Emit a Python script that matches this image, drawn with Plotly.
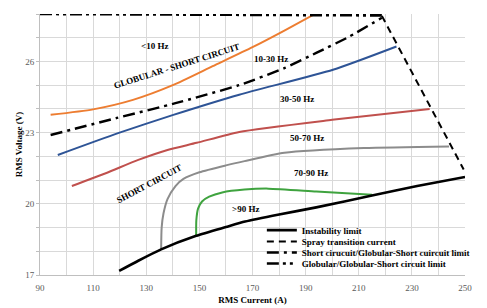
import plotly.graph_objects as go

# ---- data (RMS current in A, RMS voltage in V) ----
lt10_x = [94, 110, 125, 140, 155, 170, 182, 193]
lt10_y = [23.75, 23.98, 24.38, 25.0, 25.8, 26.6, 27.3, 27.97]

f10_30_x = [96.7, 119.4, 140.2, 165, 200.3, 224.2]
f10_30_y = [22.06, 22.98, 23.75, 24.6, 25.65, 26.63]

f30_50_x = [102, 115, 127, 138, 149, 165, 200, 236.7]
f30_50_y = [20.75, 21.3, 21.85, 22.27, 22.57, 23.03, 23.54, 24.0]

f50_70_x = [135.6, 135.8, 136.5, 138, 141, 144, 150, 160, 167, 182, 212, 244]
f50_70_y = [18.05, 19.0, 19.6, 20.2, 20.75, 21.05, 21.33, 21.62, 21.8, 22.15, 22.35, 22.42]

f70_90_x = [148.8, 148.85, 149.5, 151, 153.7, 158.6, 167, 176, 194, 215]
f70_90_y = [18.62, 19.3, 19.8, 20.1, 20.3, 20.48, 20.6, 20.64, 20.52, 20.38]

instab_x = [119.8, 127, 135.6, 148.8, 160, 167.2, 180, 194, 215, 232, 250]
instab_y = [17.17, 17.6, 18.08, 18.65, 19.02, 19.25, 19.55, 19.85, 20.35, 20.75, 21.13]

spray_x = [218.7, 249.5]
spray_y = [27.92, 21.45]

sc_limit_x = [94, 119, 141, 165, 182, 194, 206.5, 218.7]
sc_limit_y = [22.9, 23.62, 24.24, 25.0, 25.72, 26.36, 27.05, 27.84]

glob_limit_x = [90, 218.7]
glob_limit_y = [28.0, 27.94]

x_ticks = [90, 110, 130, 150, 170, 190, 210, 230, 250]
y_ticks = [17, 20, 23, 26]

region_labels = ["<10 Hz", "10-30 Hz", "30-50 Hz", "50-70 Hz", "70-90 Hz", ">90 Hz"]
region_x = [133, 177, 186.7, 190.4, 192.2, 167.5]
region_y = [26.66, 26.1, 24.4, 22.78, 21.3, 19.8]

legend_names = [
    "Instability limit",
    "Spray transition current",
    "Short cirucuit/Globular-Short cuircuit limit",
    "Globular/Globular-Short circuit limit",
]

SERIF = "Liberation Serif"

fig = go.Figure()

colored = [
    (lt10_x, lt10_y, "#ED7D31"),
    (f10_30_x, f10_30_y, "#2E5496"),
    (f30_50_x, f30_50_y, "#C0504D"),
    (f50_70_x, f50_70_y, "#8C8C8C"),
    (f70_90_x, f70_90_y, "#3FA33F"),
]
for xs, ys, c in colored:
    fig.add_trace(go.Scatter(x=xs, y=ys, mode="lines", line=dict(color=c, width=2, shape="spline", smoothing=0.6),
                             showlegend=False, hoverinfo="skip"))

fig.add_trace(go.Scatter(x=instab_x, y=instab_y, mode="lines", name=legend_names[0],
                         line=dict(color="black", width=2.6, shape="spline", smoothing=0.6), legend="legend"))
fig.add_trace(go.Scatter(x=spray_x, y=spray_y, mode="lines", name=legend_names[1],
                         line=dict(color="black", width=2, dash="7px,5px"), legend="legend2"))
fig.add_trace(go.Scatter(x=sc_limit_x, y=sc_limit_y, mode="lines", name=legend_names[2],
                         line=dict(color="black", width=2.4, dash="12px,5px,3px,5px", shape="spline", smoothing=0.5),
                         legend="legend3"))
fig.add_trace(go.Scatter(x=glob_limit_x, y=glob_limit_y, mode="lines", name=legend_names[3],
                         line=dict(color="black", width=2.6, dash="12px,4px,3px,4px,3px,4px"), legend="legend4"))

# region labels
for t, x, y in zip(region_labels, region_x, region_y):
    fig.add_annotation(x=x, y=y, text=t, showarrow=False,
                       font=dict(family=SERIF, size=9, color="black", weight="bold"))
fig.add_annotation(x=141.5, y=25.8, text="GLOBULAR - SHORT CIRCUIT", showarrow=False, textangle=-17.5,
                   font=dict(family=SERIF, size=9, color="black", weight="bold"))
fig.add_annotation(x=131, y=20.85, text="SHORT CIRCUIT", showarrow=False, textangle=-28,
                   font=dict(family=SERIF, size=9, color="black", weight="bold"))

# white box behind legend (hides grid, like the original)
fig.add_shape(type="rect", xref="paper", yref="paper", x0=0.478, x1=1.0, y0=0.012, y1=0.2,
              fillcolor="white", line=dict(width=0), layer="between")

leg_common = dict(xanchor="left", yanchor="middle", bgcolor="rgba(0,0,0,0)", borderwidth=0,
                  font=dict(family=SERIF, size=9, color="black", weight="bold"), itemwidth=30)
rows_y = [0.172, 0.128, 0.086, 0.044]
leg_x = 0.522
fig.update_layout(
    legend=dict(x=leg_x, y=rows_y[0], **leg_common),
    legend2=dict(x=leg_x, y=rows_y[1], **leg_common),
    legend3=dict(x=leg_x, y=rows_y[2], **leg_common),
    legend4=dict(x=leg_x, y=rows_y[3], **leg_common),
)

fig.update_layout(
    width=487, height=308,
    margin=dict(l=40, r=12, t=14, b=33),
    paper_bgcolor="white", plot_bgcolor="white",
    font=dict(family=SERIF, size=9, color="#595959"),
    xaxis=dict(range=[90, 250], tickvals=x_ticks, showgrid=True, gridcolor="#d9d9d9", gridwidth=1,
               minor=dict(dtick=10, tick0=90, showgrid=True, gridcolor="#d9d9d9"),
               showline=True, linecolor="#bfbfbf", linewidth=1, zeroline=False,
               ticks="", ticklabelstandoff=4, automargin=False, ticklabeloverflow="allow",
               tickfont=dict(family=SERIF, size=9, color="#595959"),
               title=dict(text="RMS Current (A)", standoff=4,
                          font=dict(family=SERIF, size=9, color="black", weight="bold"))),
    yaxis=dict(range=[17, 28], tickvals=y_ticks, showgrid=True, gridcolor="#d9d9d9", gridwidth=1,
               minor=dict(dtick=1, tick0=17, showgrid=True, gridcolor="#d9d9d9", ticks="outside",
                          ticklen=3, tickcolor="#bfbfbf"),
               showline=True, linecolor="#bfbfbf", linewidth=1, zeroline=False,
               ticks="outside", ticklen=3, tickcolor="#bfbfbf", automargin=False,
               ticklabeloverflow="allow",
               tickfont=dict(family=SERIF, size=9, color="#595959"),
               title=dict(text="RMS Voltage (V)", standoff=1,
                          font=dict(family=SERIF, size=9, color="black", weight="bold"))),
)

fig.write_html("out.html", config={"displayModeBar": False},
               post_script="document.body.style.margin='0';")
